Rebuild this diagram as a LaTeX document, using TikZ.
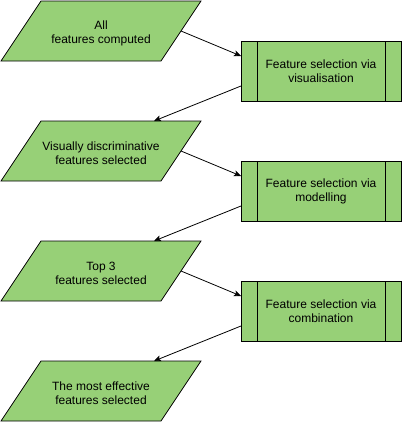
\documentclass[tikz,border=0pt]{standalone}
\usepackage{fontspec}
\setmainfont{Liberation Sans}
\usetikzlibrary{arrows.meta,calc}
\definecolor{boxgreen}{HTML}{97D077}
\tikzset{
  paranode/.style={rectangle, minimum width=200pt, minimum height=60pt, inner sep=0pt, outer sep=0pt,
    align=center, font=\fontsize{12}{14}\selectfont},
  parashape/.style={draw=black, line width=0.8pt, fill=boxgreen, line join=miter},
  procbox/.style={rectangle, minimum width=160pt, minimum height=60pt, inner sep=0pt, outer sep=0pt,
    draw=black, line width=0.8pt, fill=boxgreen, align=center, font=\fontsize{12}{14}\selectfont},
  conn/.style={draw=black, line width=0.8pt, -{Stealth[length=7pt,width=6pt,inset=1.5pt]}}
}
\newcommand{\sidelines}[1]{%
  \draw[line width=0.8pt] ($(#1.north west)+(16,0)$) -- ($(#1.south west)+(16,0)$);
  \draw[line width=0.8pt] ($(#1.north east)+(-16,0)$) -- ($(#1.south east)+(-16,0)$);}
\newcommand{\paranodeat}[3]{%
  \node[paranode] (#1) at (#2) {};
  \fill[parashape] ($(#1.north west)+(40,0)$) -- (#1.north east) -- ($(#1.south east)+(-40,0)$) -- (#1.south west) -- cycle;
  \node[font=\fontsize{12}{14}\selectfont, align=center, inner sep=0pt] at ($(#1.center)+(0,2)$) {#3};}
\begin{document}
\begin{tikzpicture}[x=1pt,y=-1pt]
\useasboundingbox (0,0) rectangle (403,423);
\paranodeat{p1}{101,31}{All\\features computed}
\node[procbox] (b1) at (321,71) {Feature selection via\\visualisation};
\paranodeat{p2}{101,151}{Visually discriminative\\features selected}
\node[procbox] (b2) at (321,191) {Feature selection via\\modelling};
\paranodeat{p3}{101,271}{Top 3\\features selected}
\node[procbox] (b3) at (321,311) {Feature selection via\\combination};
\paranodeat{p4}{101,391}{The most effective\\features selected}
\sidelines{b1}\sidelines{b2}\sidelines{b3}
\draw[conn] ($(p1.east)+(-20,0)$) -- ($(b1.west)+(0,-15)$);
\draw[conn] ($(b1.west)+(0,15)$) -- ($(p2.north east)+(-47,0)$);
\draw[conn] ($(p2.east)+(-20,0)$) -- ($(b2.west)+(0,-15)$);
\draw[conn] ($(b2.west)+(0,15)$) -- ($(p3.north east)+(-47,0)$);
\draw[conn] ($(p3.east)+(-20,0)$) -- ($(b3.west)+(0,-15)$);
\draw[conn] ($(b3.west)+(0,15)$) -- ($(p4.north east)+(-47,0)$);
\end{tikzpicture}
\end{document}
